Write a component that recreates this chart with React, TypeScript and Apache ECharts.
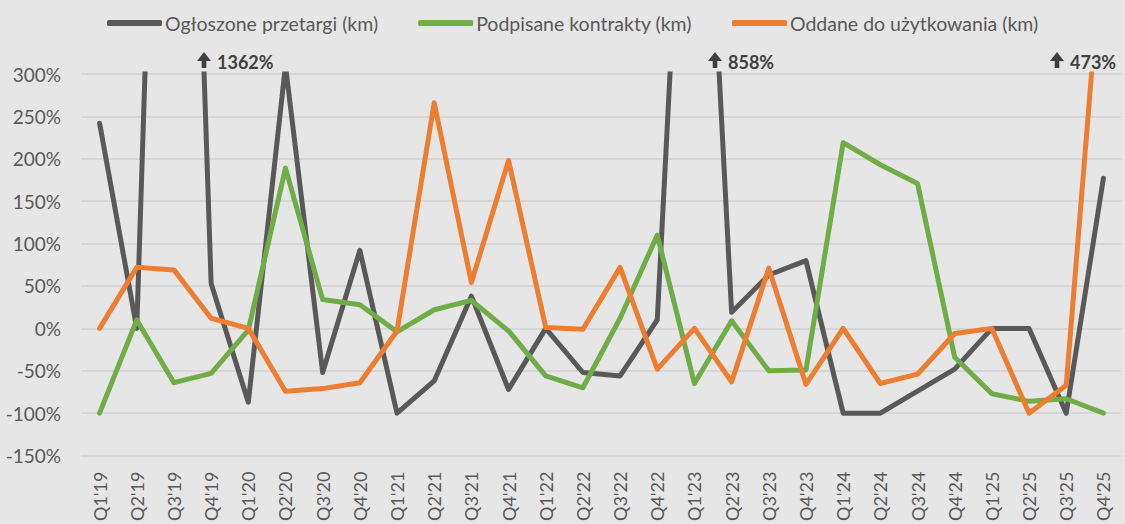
import React, { useEffect, useRef } from "react";
import * as echarts from "echarts";

const categories = [
  "Q1'19", "Q2'19", "Q3'19", "Q4'19",
  "Q1'20", "Q2'20", "Q3'20", "Q4'20",
  "Q1'21", "Q2'21", "Q3'21", "Q4'21",
  "Q1'22", "Q2'22", "Q3'22", "Q4'22",
  "Q1'23", "Q2'23", "Q3'23", "Q4'23",
  "Q1'24", "Q2'24", "Q3'24", "Q4'24",
  "Q1'25", "Q2'25", "Q3'25", "Q4'25",
];

const seriesNames = [
  "Ogłoszone przetargi (km)",
  "Podpisane kontrakty (km)",
  "Oddane do użytkowania (km)",
];

const tenders = [242, 0, 1362, 53, -87, 310, -52, 92, -100, -62, 38, -72, 0, -52, -56, 10, 858, 19, 63, 80, -100, -100, -74, -48, 0, 0, -100, 177];
const contracts = [-100, 10, -64, -53, -2, 189, 34, 28, -4, 22, 33, -3, -56, -70, 12, 110, -65, 9, -50, -49, 219, 193, 171, -34, -77, -86, -83, -100];
const commissioned = [0, 72, 69, 12, 0, -74, -71, -64, -3, 266, 54, 198, 1, -1, 72, -48, 0, -63, 71, -66, 0, -65, -54, -6, 0, -100, -67, 473];

const yTicks = { min: -150, max: 300, interval: 50 };

// annotations for values running off the top of the axis
const overflowNotes = [
  { series: "tenders", index: 2 },
  { series: "tenders", index: 16 },
  { series: "commissioned", index: 27 },
];
const noteX = [197, 708, 1050];

const colors = ["#595959", "#70ad47", "#ed7d31"];
const FONT = "Lato, 'Open Sans', sans-serif";

export default function App() {
  const ref = useRef<HTMLDivElement>(null);

  useEffect(() => {
    document.body.style.margin = "0";
    if (!ref.current) return;
    const chart = echarts.init(ref.current, null, { renderer: "svg" });
    const data: Record<string, number[]> = { tenders, contracts, commissioned };

    const graphic: any[] = [];
    overflowNotes.forEach((n, i) => {
      const x = noteX[i];
      graphic.push({
        type: "polygon",
        shape: {
          points: [
            [x + 7, 52],
            [x + 14, 61],
            [x + 9.3, 61],
            [x + 9.3, 68],
            [x + 4.7, 68],
            [x + 4.7, 61],
            [x, 61],
          ],
        },
        style: { fill: "#404040" },
      });
      graphic.push({
        type: "text",
        x: x + 20,
        y: 61.5,
        style: {
          text: `${data[n.series][n.index]}%`,
          font: `bold 18px ${FONT}`,
          fill: "#404040",
          verticalAlign: "middle",
          textAlign: "left",
        },
      });
    });

    const mk = (name: string, values: number[], color: string) => ({
      name,
      type: "line",
      data: values,
      symbol: "none",
      showSymbol: false,
      clip: true,
      lineStyle: { color, width: 5, cap: "round", join: "round" },
      itemStyle: { color },
    });

    chart.setOption({
      animation: false,
      backgroundColor: "#e6e6e6",
      textStyle: { fontFamily: FONT },
      legend: {
        top: 8,
        left: 102,
        itemWidth: 55,
        itemHeight: 6,
        itemGap: 40,
        icon: "roundRect",
        textStyle: { color: "#595959", fontSize: 19.5, fontFamily: FONT, padding: [0, 0, 0, -2] },
        data: seriesNames,
      },
      grid: { left: 81, right: 3, top: 74, height: 385 },
      xAxis: {
        type: "category",
        data: categories,
        boundaryGap: true,
        axisLine: { show: false },
        axisTick: { show: false },
        axisLabel: { rotate: 90, fontSize: 18, color: "#595959", margin: 16, fontFamily: FONT },
      },
      yAxis: {
        type: "value",
        min: yTicks.min,
        max: yTicks.max,
        interval: yTicks.interval,
        axisLine: { show: false },
        axisTick: { show: false },
        axisLabel: {
          formatter: (v: number) => `${v}%`,
          fontSize: 19,
          color: "#595959",
          margin: 20,
          fontFamily: FONT,
        },
        splitLine: { lineStyle: { color: "#d6d6d6", width: 2 } },
      },
      series: [
        mk(seriesNames[0], tenders, colors[0]),
        mk(seriesNames[1], contracts, colors[1]),
        mk(seriesNames[2], commissioned, colors[2]),
      ],
      graphic,
    });
    return () => chart.dispose();
  }, []);

  return <div ref={ref} style={{ width: 1125, height: 524 }} />;
}
